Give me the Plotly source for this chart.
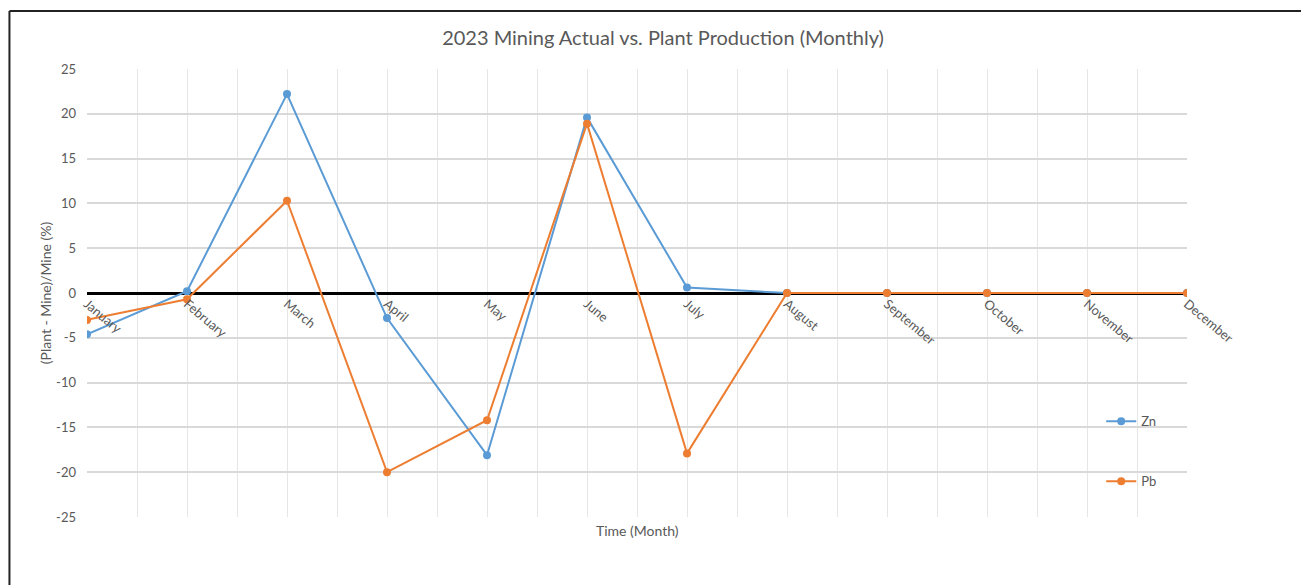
import plotly.graph_objects as go

MONTHS = ["January", "February", "March", "April", "May", "June", "July",
          "August", "September", "October", "November", "December"]
ZN = [-4.6, 0.2, 22.2, -2.8, -18.1, 19.6, 0.6, 0.0, 0.0, 0.0, 0.0, 0.0]
PB = [-3.0, -0.7, 10.3, -20.0, -14.2, 18.9, -17.9, 0.0, 0.0, 0.0, 0.0, 0.0]
Y_TICKS = [-25, -20, -15, -10, -5, 0, 5, 10, 15, 20, 25]

BLUE = "#5B9BD5"
ORANGE = "#ED7D31"
TEXT = "#595959"
FONT = "Lato"

x_idx = list(range(len(MONTHS)))

fig = go.Figure()
fig.add_trace(go.Scatter(
    x=x_idx, y=ZN, name="Zn", mode="lines+markers", legendgroup="zn",
    line=dict(color=BLUE, width=2), marker=dict(size=8, color=BLUE),
))
fig.add_trace(go.Scatter(
    x=x_idx, y=PB, name="Pb", mode="lines+markers", legendgroup="pb",
    line=dict(color=ORANGE, width=2), marker=dict(size=8, color=ORANGE),
))

# page body has an 8px margin, so margins are shifted to land the plot where it should
fig.update_layout(
    width=1309, height=585,
    paper_bgcolor="white", plot_bgcolor="white",
    font=dict(family=FONT, color=TEXT, size=12),
    margin=dict(l=79, r=130, t=61, b=76),
    title=dict(text="2023 Mining Actual vs. Plant Production (Monthly)",
               x=0.5004, xanchor="center", y=0.949, yanchor="middle",
               font=dict(family=FONT, size=20, color=TEXT)),
    xaxis=dict(
        tickvals=x_idx, ticktext=MONTHS, range=[0, len(MONTHS) - 1],
        anchor="free", position=0.5, tickangle=40,
        showline=False, zeroline=False, ticks="",
        showgrid=True, gridcolor="#e6e6e6", gridwidth=1,
        minor=dict(dtick=0.5, tick0=0, showgrid=True, gridcolor="#e6e6e6", gridwidth=1),
        tickfont=dict(size=13, color=TEXT),
    ),
    yaxis=dict(
        range=[-25, 25], tickvals=Y_TICKS, ticktext=[str(v) for v in Y_TICKS],
        showgrid=True, gridcolor="#d9d9d9", gridwidth=1.5,
        zeroline=True, zerolinecolor="black", zerolinewidth=3,
        ticks="", ticklabelstandoff=10, tickfont=dict(size=13, color=TEXT),
    ),
    legend=dict(x=0.922, y=0.247, xanchor="left", yanchor="top",
                tracegroupgap=40, itemwidth=30, bgcolor="rgba(0,0,0,0)",
                font=dict(size=13, color=TEXT)),
    annotations=[
        dict(text="Time (Month)", x=0.5, y=-0.03, xref="paper", yref="paper",
             showarrow=False, xanchor="center", yanchor="middle",
             font=dict(size=14, color=TEXT)),
        dict(text="(Plant - Mine)/Mine (%)", x=-0.038, y=0.5, xref="paper", yref="paper",
             showarrow=False, textangle=-90, xanchor="center", yanchor="middle",
             font=dict(size=14, color=TEXT)),
    ],
    shapes=[
        dict(type="line", xref="paper", yref="paper", x0=-0.0705, x1=1.2,
             y0=1.1295, y1=1.1295, line=dict(color="#222222", width=2)),
        dict(type="line", xref="paper", yref="paper", x0=-0.0705, x1=-0.0705,
             y0=1.1295, y1=-0.2, line=dict(color="#222222", width=2)),
    ],
)

fig.write_html("out.html")
